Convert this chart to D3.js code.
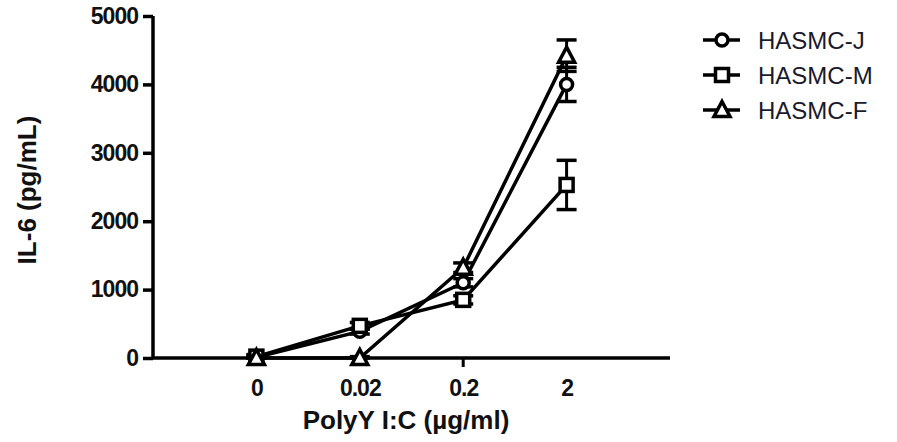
<!DOCTYPE html>
<html>
<head>
<meta charset="utf-8">
<script src="https://cdn.jsdelivr.net/npm/d3@7"></script>
<style>
  body { margin: 0; background: #fff; }
  text { font-family: "Liberation Sans", Arial, sans-serif; }
</style>
</head>
<body>
<div id="chart"></div>
<script>
// PolyI:C dose -> IL-6 response
const doses = ["0", "0.02", "0.2", "2"];
const seriesNames = ["HASMC-J", "HASMC-M", "HASMC-F"];
const markerTypes = ["circle", "square", "triangle"];
const meanJ = [10, 390, 1100, 4000];
const meanM = [20, 470, 850, 2530];
const meanF = [0, 0, 1320, 4420];
const errJ = [30, 40, 60, 250];
const errM = [30, 50, 60, 360];
const errF = [20, 20, 70, 230];
const yTicks = [0, 1000, 2000, 3000, 4000, 5000];

const width = 897, height = 442;
const svg = d3.select("#chart").append("svg")
    .attr("width", width).attr("height", height);

const x = d3.scalePoint().domain(doses).range([153, 670]).padding(1);
const y = d3.scaleLinear().domain([0, 5000]).range([358, 16]);

const series = [
    { name: seriesNames[0], marker: markerTypes[0], mean: meanJ, err: errJ },
    { name: seriesNames[1], marker: markerTypes[1], mean: meanM, err: errM },
    { name: seriesNames[2], marker: markerTypes[2], mean: meanF, err: errF }
];

// y axis
const yAxis = svg.append("g")
    .attr("transform", "translate(153,0)")
    .call(d3.axisLeft(y).tickValues(yTicks).tickFormat(d3.format("d")).tickSize(10).tickPadding(5));
yAxis.select(".domain").attr("d", `M0,${y(5000)}V${y(0)}`);
yAxis.selectAll("path, line").attr("stroke", "#000").attr("stroke-width", 3.5);
yAxis.selectAll("text")
    .attr("font-size", 23).attr("font-weight", "bold").attr("fill", "#111")
    .attr("font-family", "Liberation Sans, Arial, sans-serif")
    .attr("letter-spacing", -1);

// x axis (only the 0.2 tick mark is drawn in the original)
const xAxis = svg.append("g")
    .attr("transform", `translate(0,${y(0)})`)
    .call(d3.axisBottom(x).tickSize(0).tickPadding(22));
xAxis.select(".domain").attr("d", "M153,0H670").attr("stroke", "#000").attr("stroke-width", 3.5);
xAxis.selectAll("text")
    .attr("font-size", 23).attr("font-weight", "bold").attr("fill", "#111")
    .attr("font-family", "Liberation Sans, Arial, sans-serif")
    .attr("letter-spacing", -1);
xAxis.append("line")
    .attr("x1", x("0.2")).attr("x2", x("0.2"))
    .attr("y1", 0).attr("y2", 9)
    .attr("stroke", "#000").attr("stroke-width", 3);

// axis titles
svg.append("text")
    .attr("transform", "translate(36,190) rotate(-90)")
    .attr("text-anchor", "middle")
    .attr("font-size", 26).attr("font-weight", "bold").attr("fill", "#111")
    .text("IL-6 (pg/mL)");
svg.append("text")
    .attr("x", 406).attr("y", 429)
    .attr("text-anchor", "middle")
    .attr("font-size", 26).attr("font-weight", "bold").attr("fill", "#111")
    .text("PolyY I:C (\u00b5g/ml)");

function drawMarker(g, type) {
    if (type === "circle") {
        g.append("circle").attr("r", 6);
    } else if (type === "square") {
        g.append("rect").attr("x", -6.5).attr("y", -6.5).attr("width", 13).attr("height", 13);
    } else {
        g.append("path").attr("d", "M0,-8.5L8,6.5H-8Z");
    }
    g.selectAll("*").attr("fill", "#fff").attr("stroke", "#000").attr("stroke-width", 3.5);
}

const line = d3.line().x((d, i) => x(doses[i])).y(d => y(d));

series.forEach(s => {
    const g = svg.append("g");
    // error bars
    s.mean.forEach((m, i) => {
        const cx = x(doses[i]);
        const top = y(m + s.err[i]), bot = y(Math.max(0, m - s.err[i]));
        g.append("line").attr("x1", cx).attr("x2", cx).attr("y1", top).attr("y2", bot)
            .attr("stroke", "#000").attr("stroke-width", 3);
        [top, bot].forEach(yy => g.append("line")
            .attr("x1", cx - 10).attr("x2", cx + 10).attr("y1", yy).attr("y2", yy)
            .attr("stroke", "#000").attr("stroke-width", 3.5));
    });
    g.append("path").datum(s.mean).attr("d", line)
        .attr("fill", "none").attr("stroke", "#000").attr("stroke-width", 3.5);
    s.mean.forEach((m, i) => {
        const mg = g.append("g").attr("transform", `translate(${x(doses[i])},${y(m)})`);
        drawMarker(mg, s.marker);
    });
});

// legend
const legend = svg.append("g").attr("transform", "translate(703,40)");
series.forEach((s, i) => {
    const row = legend.append("g").attr("transform", `translate(0,${i * 35})`);
    row.append("line").attr("x1", 0).attr("x2", 37).attr("y1", 0).attr("y2", 0)
        .attr("stroke", "#000").attr("stroke-width", 3.5);
    const mg = row.append("g").attr("transform", "translate(19,0)");
    drawMarker(mg, s.marker);
    row.append("text").attr("x", 55).attr("y", 9)
        .attr("font-size", 24).attr("fill", "#1a1a2a")
        .text(s.name);
});
</script>
</body>
</html>
